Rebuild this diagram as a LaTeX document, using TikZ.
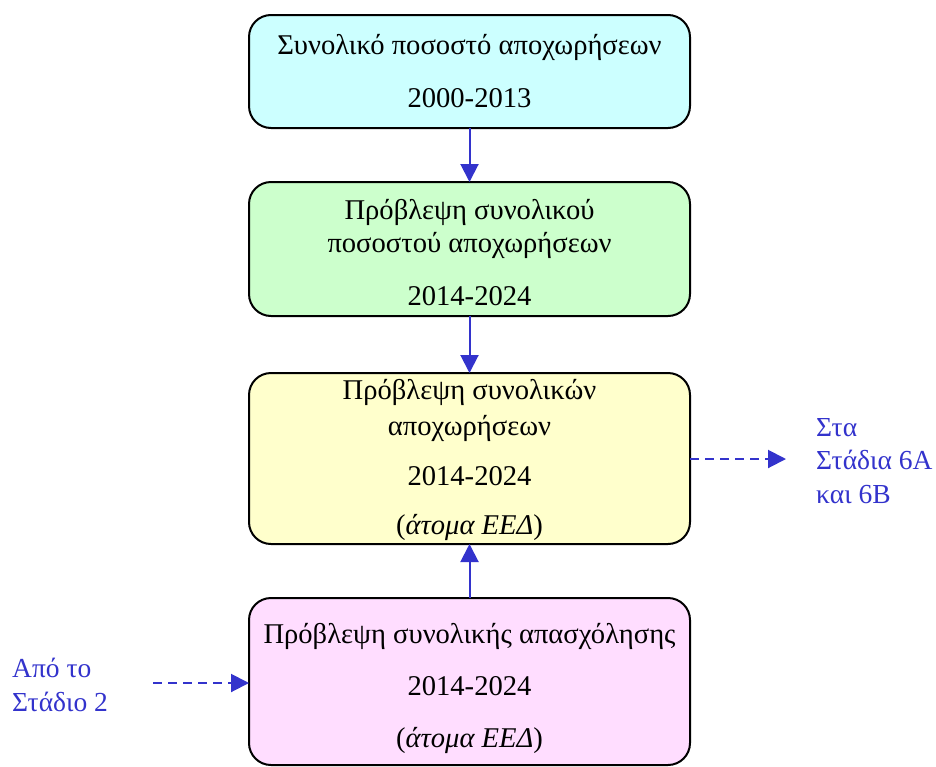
\documentclass[tikz,border=0pt]{standalone}
\usepackage{fontspec}
\setmainfont{Liberation Serif}
\usetikzlibrary{arrows.meta}
\definecolor{bcyan}{HTML}{CCFFFF}
\definecolor{bgreen}{HTML}{CCFFCC}
\definecolor{byellow}{HTML}{FFFFCC}
\definecolor{bpink}{HTML}{FFDDFF}
\definecolor{arrblue}{HTML}{3333CC}
\begin{document}
\begin{tikzpicture}[x=1pt,y=-1pt,
  box/.style={draw=black,line width=2pt,rounded corners=22pt},
  txt/.style={font=\fontsize{28.6}{32}\selectfont,inner sep=0pt,anchor=center},
  btxt/.style={font=\fontsize{27.5}{33.5}\selectfont,text=arrblue,inner sep=0pt,align=left},
  conn/.style={draw=arrblue,line width=2pt,-{Triangle[length=18pt,width=18pt]}},
  dconn/.style={conn,dash pattern=on 9pt off 6pt}]
\useasboundingbox (0,0) rectangle (936,766);
\path[box,fill=bcyan] (249,15) rectangle (690,128);
\path[box,fill=bgreen] (249,182) rectangle (690,316);
\path[box,fill=byellow] (249,373) rectangle (690,544);
\path[box,fill=bpink] (249,598) rectangle (690,765);
\coordinate (b1s) at (469.5,128);
\coordinate (b2n) at (469.5,182);
\coordinate (b2s) at (469.5,316);
\coordinate (b3n) at (469.5,373);
\coordinate (b3s) at (469.5,544);
\coordinate (b4n) at (469.5,598);
\coordinate (b3e) at (690,459);
\coordinate (b4w) at (249,683);
% box 1
\node[txt] (t11) at (469.5,47) {Συνολικό ποσοστό αποχωρήσεων};
\node[txt] (t12) at (469.5,98) {2000-2013};
% box 2
\node[txt] (t21) at (469.5,212) {Πρόβλεψη συνολικού};
\node[txt] (t22) at (469.5,245) {ποσοστού αποχωρήσεων};
\node[txt] (t23) at (469.5,296) {2014-2024};
% box 3
\node[txt] (t31) at (469.5,392) {Πρόβλεψη συνολικών};
\node[txt] (t32) at (469.5,428) {αποχωρήσεων};
\node[txt] (t33) at (469.5,476) {2014-2024};
\node[txt] (t34) at (469.5,527) {(\textit{άτομα ΕΕΔ})};
% box 4
\node[txt] (t41) at (469.5,636) {Πρόβλεψη συνολικής απασχόλησης};
\node[txt] (t42) at (469.5,686) {2014-2024};
\node[txt] (t43) at (469.5,740) {(\textit{άτομα ΕΕΔ})};
% side labels
\node[btxt,anchor=west] (r) at (816,461) {Στα\\Στάδια 6A\\και 6B};
\node[btxt,anchor=west] (l) at (12,685) {Από το\\Στάδιο 2};
\coordinate (rend) at (786,459);
\coordinate (lstart) at (153,683);
% connectors
\draw[conn] (b1s) -- (b2n);
\draw[conn] (b2s) -- (b3n);
\draw[conn] (b4n) -- (b3s);
\draw[dconn] (b3e) -- (rend);
\draw[dconn] (lstart) -- (b4w);
\end{tikzpicture}
\end{document}
